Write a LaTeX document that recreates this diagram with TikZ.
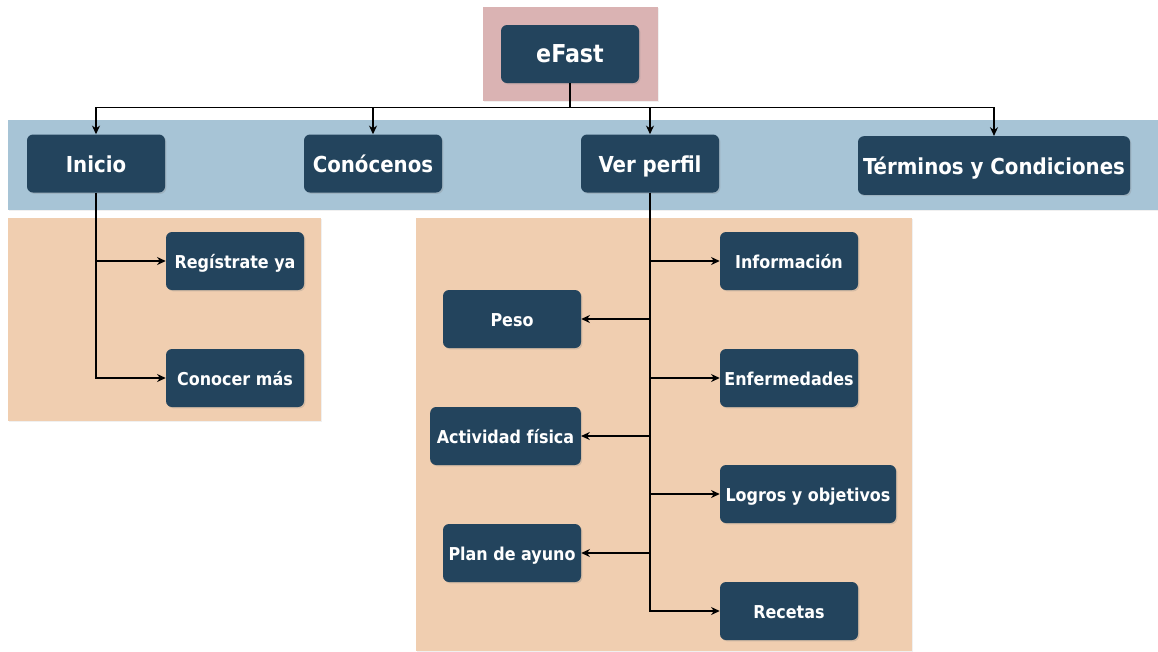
\documentclass[tikz,border=0pt]{standalone}
\usepackage{fontspec}
\setmainfont{DejaVu Sans Condensed}
\usepackage{xcolor}
\usetikzlibrary{arrows.meta,shadows}

\definecolor{navy}{HTML}{23445D}
\definecolor{bandblue}{RGB}{167,196,214}
\definecolor{rootpink}{RGB}{218,179,179}
\definecolor{panelorange}{RGB}{240,206,176}

\tikzset{
	panel/.style={drop shadow={shadow xshift=1pt,shadow yshift=-1pt,opacity=.12}},
	menubox/.style={fill=navy,rounded corners=4.5pt,text=white,inner sep=2pt,
		font=\bfseries\fontsize{13.3}{15}\selectfont,text height=12.5pt,text depth=1.2pt,
		minimum width=103.5pt,minimum height=43.5pt,
		drop shadow={shadow xshift=1pt,shadow yshift=-1pt,opacity=.25}},
	topbox/.style={menubox,font=\bfseries\fontsize{16.5}{19}\selectfont,
		text height=14pt,text depth=1pt},
	rootbox/.style={topbox,font=\bfseries\fontsize{18.5}{21}\selectfont},
	arr/.style={-{Stealth[length=6.5pt,width=6pt]},line width=.9pt},
}

\begin{document}
\begin{tikzpicture}[x=.75pt,y=-.75pt]
	\useasboundingbox (0,0) rectangle (1158,651);

	% fondos
	\fill[rootpink,panel] (483,7) rectangle (658,101);
	\fill[bandblue,panel] (8,120) rectangle (1158,210);
	\fill[panelorange,panel] (8,218) rectangle (321,421);
	\fill[panelorange,panel] (416,218) rectangle (912,651);

	\node[rootbox] (efast) at (570,54) {eFast};

	\node[topbox] (inicio) at (96,163.5) {Inicio};
	\node[topbox] (conocenos) at (373,163.5) {Conócenos};
	\node[topbox] (verperfil) at (650,163.5) {Ver perfil};
	\node[topbox,minimum width=204pt,minimum height=44pt] (terminos) at (994,165.5) {Términos y Condiciones};

	\node[menubox] (registrate) at (235,261) {Regístrate ya};
	\node[menubox] (conocer) at (235,378) {Conocer más};

	\node[menubox] (informacion) at (789,261) {Información};
	\node[menubox] (enfermedades) at (789,378) {Enfermedades};
	\node[menubox,minimum width=132pt] (logros) at (808,494) {Logros y objetivos};
	\node[menubox] (recetas) at (789,611) {Recetas};

	\node[menubox] (peso) at (512,319) {Peso};
	\node[menubox,minimum width=113pt] (actividad) at (505.5,436) {Actividad física};
	\node[menubox] (plan) at (512,553) {Plan de ayuno};

	\coordinate (bus) at ([yshift=-18pt]efast.south);
	\foreach \n in {inicio,conocenos,verperfil,terminos}
		\draw[arr] (efast.south) -- (bus) -| (\n.north);

	\foreach \n in {registrate,conocer}
		\draw[arr] (inicio.south) |- (\n.west);

	\foreach \n in {informacion,enfermedades,logros,recetas}
		\draw[arr] (verperfil.south) |- (\n.west);
	\foreach \n in {peso,actividad,plan}
		\draw[arr] (verperfil.south) |- (\n.east);
\end{tikzpicture}
\end{document}
